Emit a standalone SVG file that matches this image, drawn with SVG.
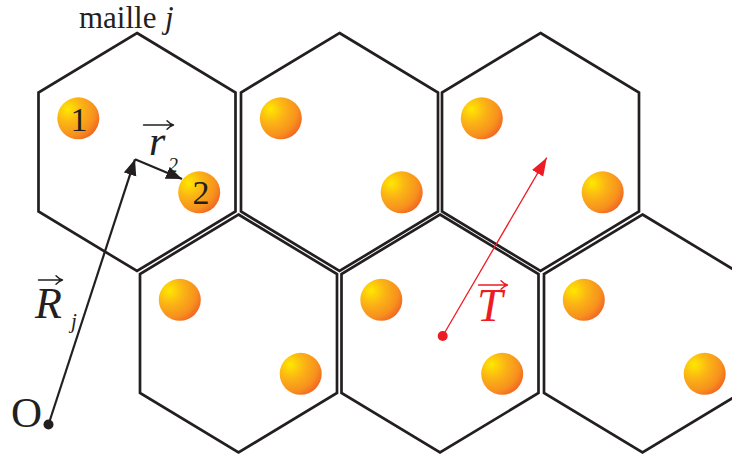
<svg xmlns="http://www.w3.org/2000/svg" xmlns:xlink="http://www.w3.org/1999/xlink" width="732" height="457" viewBox="0 0 732 457">
<style>
.cell{fill:none;stroke:#231F20;stroke-width:2.7;stroke-linejoin:miter}
.atom{fill:url(#ball)}
.serif{font-family:"Liberation Serif","Times New Roman",serif;fill:#231F20}
.it{font-style:italic}
.vec{fill:none;stroke:#231F20;stroke-width:1.4;stroke-linecap:round;stroke-linejoin:round}
.red{fill:#ED1C24}
</style>
<defs>
<radialGradient id="ball" cx="0.28" cy="0.3" r="0.8" fx="0.25" fy="0.28">
<stop offset="0" stop-color="#FFE800"/>
<stop offset="0.4" stop-color="#FBB415"/>
<stop offset="0.78" stop-color="#F7901E"/>
<stop offset="1" stop-color="#F26522"/>
</radialGradient>
<polygon id="hex" points="0,-119 98.5,-59.5 98.5,59.5 0,119 -98.5,59.5 -98.5,-59.5"/>
<g id="pair">
<circle cx="-58.7" cy="-33.7" r="21"/>
<circle cx="62.2" cy="40.3" r="21"/>
</g>
<marker id="ab" markerUnits="userSpaceOnUse" markerWidth="18" markerHeight="14" refX="16" refY="6.5" orient="auto">
<path d="M0,0 L16,6.5 L0,13 z" fill="#231F20"/>
</marker>
<marker id="ar" markerUnits="userSpaceOnUse" markerWidth="20" markerHeight="14" refX="18" refY="6.5" orient="auto">
<path d="M0,0 L18,6.5 L0,13 z" fill="#ED1C24"/>
</marker>
</defs>
<rect width="732" height="457" fill="#fff"/>

<g id="cell-j">
<use xlink:href="#hex" class="cell" transform="translate(137,152)"/>
<use xlink:href="#pair" class="atom" transform="translate(137,152)"/>
<text class="serif" x="79" y="131" font-size="34" text-anchor="middle">1</text>
<text class="serif" x="201" y="204" font-size="34" text-anchor="middle">2</text>
</g>
<g id="cell-2">
<use xlink:href="#hex" class="cell" transform="translate(339.5,152)"/>
<use xlink:href="#pair" class="atom" transform="translate(339.5,152)"/>
</g>
<g id="cell-3">
<use xlink:href="#hex" class="cell" transform="translate(540.5,152)"/>
<use xlink:href="#pair" class="atom" transform="translate(540.5,152)"/>
</g>
<g id="cell-4">
<use xlink:href="#hex" class="cell" transform="translate(238.5,333.5)"/>
<use xlink:href="#pair" class="atom" transform="translate(238.5,333.5)"/>
</g>
<g id="cell-5">
<use xlink:href="#hex" class="cell" transform="translate(440,333.5)"/>
<use xlink:href="#pair" class="atom" transform="translate(440,333.5)"/>
</g>
<g id="cell-6">
<use xlink:href="#hex" class="cell" transform="translate(642.5,333.5)"/>
<use xlink:href="#pair" class="atom" transform="translate(642.5,333.5)"/>
</g>

<g id="label-maille">
<text class="serif" x="79" y="28" font-size="31">maille<tspan class="it" x="165">j</tspan></text>
</g>

<g id="origin">
<circle cx="48.5" cy="424.5" r="5" fill="#231F20"/>
<text class="serif" x="11" y="427" font-size="43">O</text>
</g>

<g id="connectors">
<line x1="48.5" y1="424.5" x2="135" y2="159.3" stroke="#231F20" stroke-width="2.2" marker-end="url(#ab)"/>
<line x1="135" y1="159.3" x2="182" y2="179" stroke="#231F20" stroke-width="2.2" marker-end="url(#ab)"/>
<line x1="442.7" y1="336" x2="546.7" y2="157.7" stroke="#ED1C24" stroke-width="1.3" marker-end="url(#ar)"/>
<circle cx="442.7" cy="336" r="5" class="red"/>
</g>

<g id="label-r2">
<path class="vec" d="M143.5,125 H173 M167,120.8 Q170,124 173.5,125 Q170,126 167,129.2"/>
<text class="serif it" x="149" y="155" font-size="42">r</text>
<text class="serif it" x="168" y="172" font-size="20">2</text>
</g>

<g id="label-Rj">
<path class="vec" d="M38.5,280 H62 M56,275.8 Q59,279 62.5,280 Q59,281 56,284.2"/>
<text class="serif it" x="35" y="318" font-size="44">R</text>
<text class="serif it" x="71" y="328" font-size="21">j</text>
</g>

<g id="label-T">
<path class="vec" d="M478.5,285 H507 M501,280.8 Q504,284 507.5,285 Q504,286 501,289.2" style="stroke:#ED1C24"/>
<text class="serif it" x="477" y="321" font-size="46" style="fill:#ED1C24">T</text>
</g>
</svg>
